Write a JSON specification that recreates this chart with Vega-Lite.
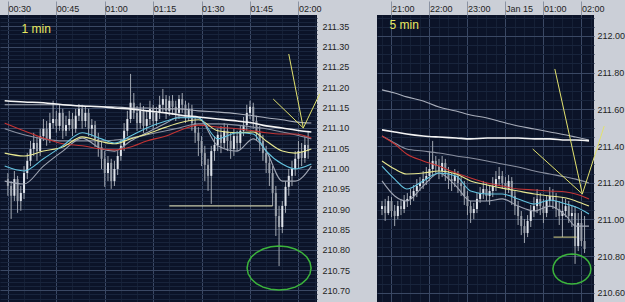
{
  "$schema": "https://vega.github.io/schema/vega-lite/v6.json",
  "background": "#cbcfd7",
  "padding": 0,
  "autosize": {"type": "pad"},
  "spacing": 60,
  "bounds": "flush",
  "config": {
    "view": {"fill": "#0b1328", "stroke": null},
    "axis": {"labelFont": "Liberation Sans", "labelFontSize": 9, "labelColor": "#1e1e1e", "title": null, "domain": false, "gridOpacity": 1, "gridWidth": 1}
  },
  "datasets": {
    "lc": [
      {"t":"2010-01-15T00:30Z","o":210.974,"h":210.989,"l":210.933,"c":210.957},
      {"t":"2010-01-15T00:31Z","o":210.957,"h":210.969,"l":210.876,"c":210.933},
      {"t":"2010-01-15T00:32Z","o":210.933,"h":210.994,"l":210.920,"c":210.974},
      {"t":"2010-01-15T00:33Z","o":210.974,"h":210.982,"l":210.891,"c":210.920},
      {"t":"2010-01-15T00:34Z","o":210.920,"h":210.957,"l":210.896,"c":210.940},
      {"t":"2010-01-15T00:35Z","o":210.940,"h":211.006,"l":210.925,"c":210.989},
      {"t":"2010-01-15T00:36Z","o":210.989,"h":211.038,"l":210.974,"c":211.019},
      {"t":"2010-01-15T00:37Z","o":211.019,"h":211.068,"l":211.006,"c":211.048},
      {"t":"2010-01-15T00:38Z","o":211.048,"h":211.088,"l":211.031,"c":211.063},
      {"t":"2010-01-15T00:39Z","o":211.063,"h":211.078,"l":211.019,"c":211.043},
      {"t":"2010-01-15T00:40Z","o":211.043,"h":211.098,"l":211.031,"c":211.080},
      {"t":"2010-01-15T00:41Z","o":211.080,"h":211.122,"l":211.068,"c":211.098},
      {"t":"2010-01-15T00:42Z","o":211.098,"h":211.117,"l":211.056,"c":211.073},
      {"t":"2010-01-15T00:43Z","o":211.073,"h":211.137,"l":211.063,"c":211.112},
      {"t":"2010-01-15T00:44Z","o":211.112,"h":211.167,"l":211.098,"c":211.122},
      {"t":"2010-01-15T00:45Z","o":211.122,"h":211.142,"l":211.088,"c":211.105},
      {"t":"2010-01-15T00:46Z","o":211.105,"h":211.157,"l":211.093,"c":211.137},
      {"t":"2010-01-15T00:47Z","o":211.137,"h":211.147,"l":211.073,"c":211.093},
      {"t":"2010-01-15T00:48Z","o":211.093,"h":211.130,"l":211.080,"c":211.107},
      {"t":"2010-01-15T00:49Z","o":211.107,"h":211.142,"l":211.093,"c":211.122},
      {"t":"2010-01-15T00:50Z","o":211.122,"h":211.137,"l":211.080,"c":211.098},
      {"t":"2010-01-15T00:51Z","o":211.098,"h":211.147,"l":211.088,"c":211.130},
      {"t":"2010-01-15T00:52Z","o":211.130,"h":211.159,"l":211.117,"c":211.147},
      {"t":"2010-01-15T00:53Z","o":211.147,"h":211.157,"l":211.098,"c":211.117},
      {"t":"2010-01-15T00:54Z","o":211.117,"h":211.152,"l":211.102,"c":211.137},
      {"t":"2010-01-15T00:55Z","o":211.137,"h":211.147,"l":211.080,"c":211.098},
      {"t":"2010-01-15T00:56Z","o":211.098,"h":211.122,"l":211.078,"c":211.107},
      {"t":"2010-01-15T00:57Z","o":211.107,"h":211.117,"l":211.053,"c":211.073},
      {"t":"2010-01-15T00:58Z","o":211.073,"h":211.088,"l":211.029,"c":211.053},
      {"t":"2010-01-15T00:59Z","o":211.053,"h":211.068,"l":210.999,"c":211.024},
      {"t":"2010-01-15T01:00Z","o":211.024,"h":211.043,"l":210.955,"c":210.989},
      {"t":"2010-01-15T01:01Z","o":210.989,"h":211.031,"l":210.969,"c":211.014},
      {"t":"2010-01-15T01:02Z","o":211.014,"h":211.024,"l":210.950,"c":210.969},
      {"t":"2010-01-15T01:03Z","o":210.969,"h":211.019,"l":210.957,"c":210.999},
      {"t":"2010-01-15T01:04Z","o":210.999,"h":211.043,"l":210.984,"c":211.031},
      {"t":"2010-01-15T01:05Z","o":211.031,"h":211.073,"l":211.019,"c":211.056},
      {"t":"2010-01-15T01:06Z","o":211.056,"h":211.112,"l":211.043,"c":211.093},
      {"t":"2010-01-15T01:07Z","o":211.093,"h":211.142,"l":211.080,"c":211.122},
      {"t":"2010-01-15T01:08Z","o":211.122,"h":211.233,"l":211.112,"c":211.162},
      {"t":"2010-01-15T01:09Z","o":211.162,"h":211.186,"l":211.122,"c":211.137},
      {"t":"2010-01-15T01:10Z","o":211.137,"h":211.154,"l":211.093,"c":211.112},
      {"t":"2010-01-15T01:11Z","o":211.112,"h":211.162,"l":211.098,"c":211.142},
      {"t":"2010-01-15T01:12Z","o":211.142,"h":211.154,"l":211.088,"c":211.105},
      {"t":"2010-01-15T01:13Z","o":211.105,"h":211.142,"l":211.093,"c":211.122},
      {"t":"2010-01-15T01:14Z","o":211.122,"h":211.167,"l":211.107,"c":211.147},
      {"t":"2010-01-15T01:15Z","o":211.147,"h":211.157,"l":211.098,"c":211.117},
      {"t":"2010-01-15T01:16Z","o":211.117,"h":211.152,"l":211.105,"c":211.137},
      {"t":"2010-01-15T01:17Z","o":211.137,"h":211.179,"l":211.122,"c":211.157},
      {"t":"2010-01-15T01:18Z","o":211.157,"h":211.196,"l":211.137,"c":211.171},
      {"t":"2010-01-15T01:19Z","o":211.171,"h":211.181,"l":211.122,"c":211.142},
      {"t":"2010-01-15T01:20Z","o":211.142,"h":211.179,"l":211.130,"c":211.167},
      {"t":"2010-01-15T01:21Z","o":211.167,"h":211.181,"l":211.132,"c":211.152},
      {"t":"2010-01-15T01:22Z","o":211.152,"h":211.167,"l":211.117,"c":211.137},
      {"t":"2010-01-15T01:23Z","o":211.137,"h":211.181,"l":211.122,"c":211.171},
      {"t":"2010-01-15T01:24Z","o":211.171,"h":211.186,"l":211.137,"c":211.157},
      {"t":"2010-01-15T01:25Z","o":211.157,"h":211.167,"l":211.112,"c":211.127},
      {"t":"2010-01-15T01:26Z","o":211.127,"h":211.162,"l":211.117,"c":211.147},
      {"t":"2010-01-15T01:27Z","o":211.147,"h":211.157,"l":211.093,"c":211.112},
      {"t":"2010-01-15T01:28Z","o":211.112,"h":211.127,"l":211.063,"c":211.088},
      {"t":"2010-01-15T01:29Z","o":211.088,"h":211.102,"l":211.031,"c":211.068},
      {"t":"2010-01-15T01:30Z","o":211.068,"h":211.080,"l":211.006,"c":211.038},
      {"t":"2010-01-15T01:31Z","o":211.038,"h":211.056,"l":210.969,"c":211.009},
      {"t":"2010-01-15T01:32Z","o":211.009,"h":211.024,"l":210.945,"c":210.982},
      {"t":"2010-01-15T01:33Z","o":210.982,"h":211.056,"l":210.913,"c":211.043},
      {"t":"2010-01-15T01:34Z","o":211.043,"h":211.080,"l":211.019,"c":211.058},
      {"t":"2010-01-15T01:35Z","o":211.058,"h":211.098,"l":211.043,"c":211.083},
      {"t":"2010-01-15T01:36Z","o":211.083,"h":211.105,"l":211.038,"c":211.063},
      {"t":"2010-01-15T01:37Z","o":211.063,"h":211.112,"l":211.048,"c":211.093},
      {"t":"2010-01-15T01:38Z","o":211.093,"h":211.107,"l":211.043,"c":211.068},
      {"t":"2010-01-15T01:39Z","o":211.068,"h":211.088,"l":211.024,"c":211.048},
      {"t":"2010-01-15T01:40Z","o":211.048,"h":211.098,"l":211.031,"c":211.080},
      {"t":"2010-01-15T01:41Z","o":211.080,"h":211.093,"l":211.043,"c":211.063},
      {"t":"2010-01-15T01:42Z","o":211.063,"h":211.107,"l":211.048,"c":211.093},
      {"t":"2010-01-15T01:43Z","o":211.093,"h":211.127,"l":211.080,"c":211.107},
      {"t":"2010-01-15T01:44Z","o":211.107,"h":211.157,"l":211.093,"c":211.137},
      {"t":"2010-01-15T01:45Z","o":211.137,"h":211.167,"l":211.122,"c":211.152},
      {"t":"2010-01-15T01:46Z","o":211.152,"h":211.162,"l":211.098,"c":211.117},
      {"t":"2010-01-15T01:47Z","o":211.117,"h":211.130,"l":211.068,"c":211.088},
      {"t":"2010-01-15T01:48Z","o":211.088,"h":211.105,"l":211.043,"c":211.068},
      {"t":"2010-01-15T01:49Z","o":211.068,"h":211.083,"l":211.019,"c":211.038},
      {"t":"2010-01-15T01:50Z","o":211.038,"h":211.056,"l":210.989,"c":211.014},
      {"t":"2010-01-15T01:51Z","o":211.014,"h":211.031,"l":210.957,"c":210.989},
      {"t":"2010-01-15T01:52Z","o":210.989,"h":211.006,"l":210.908,"c":210.940},
      {"t":"2010-01-15T01:53Z","o":210.940,"h":210.957,"l":210.834,"c":210.883},
      {"t":"2010-01-15T01:54Z","o":210.883,"h":210.908,"l":210.760,"c":210.856},
      {"t":"2010-01-15T01:55Z","o":210.856,"h":210.920,"l":210.841,"c":210.908},
      {"t":"2010-01-15T01:56Z","o":210.908,"h":210.969,"l":210.891,"c":210.955},
      {"t":"2010-01-15T01:57Z","o":210.955,"h":210.999,"l":210.933,"c":210.982},
      {"t":"2010-01-15T01:58Z","o":210.982,"h":211.019,"l":210.957,"c":210.999},
      {"t":"2010-01-15T01:59Z","o":210.999,"h":211.043,"l":210.982,"c":211.024},
      {"t":"2010-01-15T02:00Z","o":211.024,"h":211.068,"l":210.999,"c":211.043},
      {"t":"2010-01-15T02:01Z","o":211.043,"h":211.063,"l":211.006,"c":211.026},
      {"t":"2010-01-15T02:02Z","o":211.026,"h":211.080,"l":211.014,"c":211.058},
      {"t":"2010-01-15T02:03Z","o":211.058,"h":211.093,"l":211.024,"c":211.043}
    ],
    "lma": [
      {"t":"2010-01-15T00:29Z","a":211.167,"b":211.157,"f":211.098,"c":211.112,"d":211.038,"e":211.006,"g":210.969},
      {"t":"2010-01-15T00:35Z","a":211.164,"b":211.157,"f":211.083,"c":211.093,"d":211.031,"e":210.994,"g":210.962},
      {"t":"2010-01-15T00:41Z","a":211.162,"b":211.157,"f":211.073,"c":211.075,"d":211.043,"e":211.024,"g":211.006},
      {"t":"2010-01-15T00:47Z","a":211.157,"b":211.157,"f":211.068,"c":211.061,"d":211.053,"e":211.056,"g":211.043},
      {"t":"2010-01-15T00:53Z","a":211.154,"b":211.154,"f":211.068,"c":211.056,"d":211.078,"e":211.088,"g":211.075},
      {"t":"2010-01-15T00:59Z","a":211.152,"b":211.152,"f":211.068,"c":211.048,"d":211.066,"e":211.073,"g":211.048},
      {"t":"2010-01-15T01:03Z","a":211.149,"b":211.152,"f":211.070,"c":211.046,"d":211.061,"e":211.063,"g":211.043},
      {"t":"2010-01-15T01:08Z","a":211.147,"b":211.149,"f":211.075,"c":211.053,"d":211.073,"e":211.080,"g":211.068},
      {"t":"2010-01-15T01:13Z","a":211.142,"b":211.149,"f":211.083,"c":211.068,"d":211.085,"e":211.100,"g":211.088},
      {"t":"2010-01-15T01:19Z","a":211.137,"b":211.147,"f":211.093,"c":211.080,"d":211.102,"e":211.117,"g":211.112},
      {"t":"2010-01-15T01:23Z","a":211.132,"b":211.147,"f":211.100,"c":211.093,"d":211.112,"e":211.125,"g":211.127},
      {"t":"2010-01-15T01:29Z","a":211.127,"b":211.142,"f":211.110,"c":211.107,"d":211.120,"e":211.125,"g":211.125},
      {"t":"2010-01-15T01:35Z","a":211.122,"b":211.139,"f":211.110,"c":211.102,"d":211.093,"e":211.073,"g":211.056},
      {"t":"2010-01-15T01:41Z","a":211.117,"b":211.135,"f":211.107,"c":211.098,"d":211.088,"e":211.088,"g":211.043},
      {"t":"2010-01-15T01:46Z","a":211.112,"b":211.130,"f":211.102,"c":211.093,"d":211.090,"e":211.085,"g":211.073},
      {"t":"2010-01-15T01:50Z","a":211.105,"b":211.125,"f":211.098,"c":211.088,"d":211.068,"e":211.043,"g":211.043},
      {"t":"2010-01-15T01:55Z","a":211.100,"b":211.120,"f":211.090,"c":211.085,"d":211.043,"e":211.011,"g":210.969},
      {"t":"2010-01-15T01:59Z","a":211.095,"b":211.115,"f":211.083,"c":211.085,"d":211.038,"e":210.999,"g":210.969},
      {"t":"2010-01-15T02:04Z","a":211.090,"b":211.112,"f":211.073,"c":211.075,"d":211.048,"e":211.011,"g":211.006}
    ],
    "lann": [
      {"seg":"h","t":"2010-01-15T01:20Z","p":210.908},
      {"seg":"h","t":"2010-01-15T01:52Z","p":210.908},
      {"seg":"1","t":"2010-01-15T01:57Z","p":211.282},
      {"seg":"1","t":"2010-01-15T02:01:30Z","p":211.100},
      {"seg":"2","t":"2010-01-15T01:52:12Z","p":211.171},
      {"seg":"2","t":"2010-01-15T02:01:30Z","p":211.100},
      {"seg":"3","t":"2010-01-15T02:01:30Z","p":211.100},
      {"seg":"3","t":"2010-01-15T02:06:36Z","p":211.184}
    ],
    "rc": [
      {"t":"2010-01-14T20:45Z","o":211.057,"h":211.101,"l":211.024,"c":211.073},
      {"t":"2010-01-14T20:50Z","o":211.073,"h":211.112,"l":210.992,"c":211.035},
      {"t":"2010-01-14T20:55Z","o":211.035,"h":211.128,"l":211.024,"c":211.101},
      {"t":"2010-01-14T21:00Z","o":211.101,"h":211.122,"l":211.013,"c":211.046},
      {"t":"2010-01-14T21:05Z","o":211.046,"h":211.079,"l":210.964,"c":211.019},
      {"t":"2010-01-14T21:10Z","o":211.019,"h":211.101,"l":211.002,"c":211.073},
      {"t":"2010-01-14T21:15Z","o":211.073,"h":211.112,"l":211.024,"c":211.057},
      {"t":"2010-01-14T21:20Z","o":211.057,"h":211.133,"l":211.035,"c":211.101},
      {"t":"2010-01-14T21:25Z","o":211.101,"h":211.144,"l":211.068,"c":211.112},
      {"t":"2010-01-14T21:30Z","o":211.112,"h":211.166,"l":211.079,"c":211.128},
      {"t":"2010-01-14T21:35Z","o":211.128,"h":211.188,"l":211.101,"c":211.155},
      {"t":"2010-01-14T21:40Z","o":211.155,"h":211.220,"l":211.122,"c":211.182},
      {"t":"2010-01-14T21:45Z","o":211.182,"h":211.231,"l":211.155,"c":211.199},
      {"t":"2010-01-14T21:50Z","o":211.199,"h":211.264,"l":211.166,"c":211.220},
      {"t":"2010-01-14T21:55Z","o":211.220,"h":211.286,"l":211.188,"c":211.237},
      {"t":"2010-01-14T22:00Z","o":211.237,"h":211.373,"l":211.210,"c":211.275},
      {"t":"2010-01-14T22:05Z","o":211.275,"h":211.428,"l":211.237,"c":211.319},
      {"t":"2010-01-14T22:10Z","o":211.319,"h":211.346,"l":211.253,"c":211.291},
      {"t":"2010-01-14T22:15Z","o":211.291,"h":211.330,"l":211.220,"c":211.264},
      {"t":"2010-01-14T22:20Z","o":211.264,"h":211.346,"l":211.231,"c":211.308},
      {"t":"2010-01-14T22:25Z","o":211.308,"h":211.330,"l":211.210,"c":211.253},
      {"t":"2010-01-14T22:30Z","o":211.253,"h":211.286,"l":211.166,"c":211.220},
      {"t":"2010-01-14T22:35Z","o":211.220,"h":211.253,"l":211.155,"c":211.210},
      {"t":"2010-01-14T22:40Z","o":211.210,"h":211.275,"l":211.177,"c":211.237},
      {"t":"2010-01-14T22:45Z","o":211.237,"h":211.264,"l":211.144,"c":211.199},
      {"t":"2010-01-14T22:50Z","o":211.199,"h":211.231,"l":211.128,"c":211.182},
      {"t":"2010-01-14T22:55Z","o":211.182,"h":211.210,"l":211.079,"c":211.128},
      {"t":"2010-01-14T23:00Z","o":211.128,"h":211.155,"l":211.024,"c":211.073},
      {"t":"2010-01-14T23:05Z","o":211.073,"h":211.101,"l":210.981,"c":211.035},
      {"t":"2010-01-14T23:10Z","o":211.035,"h":211.090,"l":211.002,"c":211.057},
      {"t":"2010-01-14T23:15Z","o":211.057,"h":211.144,"l":211.035,"c":211.112},
      {"t":"2010-01-14T23:20Z","o":211.112,"h":211.177,"l":211.090,"c":211.144},
      {"t":"2010-01-14T23:25Z","o":211.144,"h":211.210,"l":211.112,"c":211.166},
      {"t":"2010-01-14T23:30Z","o":211.166,"h":211.199,"l":211.101,"c":211.128},
      {"t":"2010-01-14T23:35Z","o":211.128,"h":211.188,"l":211.079,"c":211.155},
      {"t":"2010-01-14T23:40Z","o":211.155,"h":211.231,"l":211.122,"c":211.182},
      {"t":"2010-01-14T23:45Z","o":211.182,"h":211.264,"l":211.155,"c":211.220},
      {"t":"2010-01-14T23:50Z","o":211.220,"h":211.286,"l":211.188,"c":211.237},
      {"t":"2010-01-14T23:55Z","o":211.237,"h":211.264,"l":211.166,"c":211.199},
      {"t":"2010-01-15T00:00Z","o":211.199,"h":211.231,"l":211.122,"c":211.166},
      {"t":"2010-01-15T00:05Z","o":211.166,"h":211.242,"l":211.144,"c":211.210},
      {"t":"2010-01-15T00:10Z","o":211.210,"h":211.231,"l":211.079,"c":211.128},
      {"t":"2010-01-15T00:15Z","o":211.128,"h":211.155,"l":211.024,"c":211.073},
      {"t":"2010-01-15T00:20Z","o":211.073,"h":211.101,"l":210.970,"c":211.019},
      {"t":"2010-01-15T00:25Z","o":211.019,"h":211.046,"l":210.915,"c":210.964},
      {"t":"2010-01-15T00:30Z","o":210.964,"h":211.002,"l":210.872,"c":210.926},
      {"t":"2010-01-15T00:35Z","o":210.926,"h":211.024,"l":210.904,"c":210.992},
      {"t":"2010-01-15T00:40Z","o":210.992,"h":211.079,"l":210.959,"c":211.046},
      {"t":"2010-01-15T00:45Z","o":211.046,"h":211.122,"l":211.013,"c":211.073},
      {"t":"2010-01-15T00:50Z","o":211.073,"h":211.166,"l":211.035,"c":211.112},
      {"t":"2010-01-15T00:55Z","o":211.112,"h":211.144,"l":211.024,"c":211.073},
      {"t":"2010-01-15T01:00Z","o":211.073,"h":211.112,"l":210.981,"c":211.035},
      {"t":"2010-01-15T01:05Z","o":211.035,"h":211.133,"l":211.013,"c":211.101},
      {"t":"2010-01-15T01:10Z","o":211.101,"h":211.177,"l":211.068,"c":211.128},
      {"t":"2010-01-15T01:15Z","o":211.128,"h":211.166,"l":211.057,"c":211.101},
      {"t":"2010-01-15T01:20Z","o":211.101,"h":211.144,"l":211.013,"c":211.057},
      {"t":"2010-01-15T01:25Z","o":211.057,"h":211.101,"l":210.970,"c":211.019},
      {"t":"2010-01-15T01:30Z","o":211.019,"h":211.122,"l":210.904,"c":211.046},
      {"t":"2010-01-15T01:35Z","o":211.046,"h":211.112,"l":211.013,"c":211.073},
      {"t":"2010-01-15T01:40Z","o":211.073,"h":211.101,"l":210.981,"c":211.019},
      {"t":"2010-01-15T01:45Z","o":211.019,"h":211.073,"l":210.959,"c":211.035},
      {"t":"2010-01-15T01:50Z","o":211.035,"h":211.073,"l":210.758,"c":210.855},
      {"t":"2010-01-15T01:55Z","o":210.855,"h":211.035,"l":210.828,"c":210.981},
      {"t":"2010-01-15T02:00Z","o":210.981,"h":211.046,"l":210.855,"c":210.883},
      {"t":"2010-01-15T02:05Z","o":210.883,"h":211.019,"l":210.817,"c":210.839}
    ],
    "rma": [
      {"t":"2010-01-14T20:45Z","b":211.706,"a":211.488,"f":211.455,"c":211.455,"d":211.319,"e":211.291,"g":211.210},
      {"t":"2010-01-14T21:05Z","b":211.689,"a":211.477,"f":211.417,"c":211.411,"d":211.275,"e":211.220,"g":211.128},
      {"t":"2010-01-14T21:24Z","b":211.668,"a":211.466,"f":211.384,"c":211.357,"d":211.248,"e":211.166,"g":211.101},
      {"t":"2010-01-14T21:50Z","b":211.646,"a":211.455,"f":211.373,"c":211.319,"d":211.253,"e":211.210,"g":211.182},
      {"t":"2010-01-14T22:15Z","b":211.613,"a":211.449,"f":211.362,"c":211.291,"d":211.264,"e":211.253,"g":211.253},
      {"t":"2010-01-14T22:42Z","b":211.591,"a":211.444,"f":211.346,"c":211.253,"d":211.248,"e":211.237,"g":211.182},
      {"t":"2010-01-14T23:05Z","b":211.569,"a":211.439,"f":211.335,"c":211.226,"d":211.210,"e":211.155,"g":211.101},
      {"t":"2010-01-14T23:31Z","b":211.553,"a":211.444,"f":211.319,"c":211.199,"d":211.188,"e":211.139,"g":211.101},
      {"t":"2010-01-14T23:55Z","b":211.531,"a":211.444,"f":211.302,"c":211.182,"d":211.171,"e":211.139,"g":211.112},
      {"t":"2010-01-15T00:20Z","b":211.509,"a":211.444,"f":211.286,"c":211.166,"d":211.155,"e":211.112,"g":211.073},
      {"t":"2010-01-15T00:46Z","b":211.493,"a":211.439,"f":211.264,"c":211.161,"d":211.139,"e":211.084,"g":211.046},
      {"t":"2010-01-15T01:10Z","b":211.477,"a":211.439,"f":211.248,"c":211.155,"d":211.128,"e":211.106,"g":211.073},
      {"t":"2010-01-15T01:36Z","b":211.460,"a":211.433,"f":211.231,"c":211.150,"d":211.117,"e":211.084,"g":211.019},
      {"t":"2010-01-15T01:51Z","b":211.449,"a":211.433,"f":211.220,"c":211.139,"d":211.101,"e":211.068,"g":210.964},
      {"t":"2010-01-15T02:12Z","b":211.433,"a":211.428,"f":211.199,"c":211.112,"d":211.073,"e":211.030,"g":210.964}
    ],
    "rann": [
      {"seg":"h","t":"2010-01-15T01:16Z","p":210.904},
      {"seg":"h","t":"2010-01-15T01:52:30Z","p":210.904},
      {"seg":"1","t":"2010-01-15T01:18Z","p":211.820},
      {"seg":"1","t":"2010-01-15T02:01:30Z","p":211.139},
      {"seg":"2","t":"2010-01-15T00:43Z","p":211.384},
      {"seg":"2","t":"2010-01-15T02:01:30Z","p":211.139},
      {"seg":"3","t":"2010-01-15T02:01:30Z","p":211.139},
      {"seg":"3","t":"2010-01-15T02:36Z","p":211.509}
    ]
  },
  "hconcat": [
    {
      "width": 317,
      "height": 288,
      "encoding": {
        "x": {"field": "t", "type": "temporal",
          "scale": {"type": "utc", "domain": [{"year":2010,"month":1,"date":15,"hours":0,"minutes":29,"seconds":6,"utc":true},{"year":2010,"month":1,"date":15,"hours":2,"minutes":4,"seconds":12,"utc":true}]},
          "axis": {"orient": "top", "tickCount": 20,
            "labelExpr": "utcminutes(datum.value) % 15 === 0 ? utcFormat(datum.value, '%H:%M') : ''",
            "labelAlign": "left", "labelBaseline": "bottom", "labelPadding": -12, "labelDx": 2,
            "labelFlush": false, "labelOverlap": false, "tickSize": 14,
            "tickColor": {"condition": {"test": "utcminutes(datum.value) % 15 === 0", "value": "#8a92a2"}, "value": "transparent"},
            "grid": true,
            "gridColor": {"condition": {"test": "utcminutes(datum.value) % 15 === 0", "value": "#3a4864"}, "value": "#152036"}}}
      },
      "layer": [
        {"data": {"name": "lc"}, "mark": {"type": "rule", "color": "#a2a8b2", "clip": true},
          "encoding": {
            "y": {"field": "l", "type": "quantitative",
              "scale": {"domain": [210.669, 211.378], "zero": false, "nice": false},
              "axis": {"orient": "right", "tickCount": 70, "ticks": false, "labelPadding": 5, "labelAlign": "left", "title": null,
                "labelOverlap": false, "labelFlush": false,
                "labelExpr": "abs(round(datum.value*20) - datum.value*20) < 0.01 ? format(datum.value, '.2f') : ''",
                "grid": true,
                "gridColor": {"condition": {"test": "abs(round(datum.value*20) - datum.value*20) < 0.01", "value": "#3a4864"}, "value": "#18243c"}}},
            "y2": {"field": "h"}}},
        {"data": {"name": "lc"}, "mark": {"type": "bar", "size": 2, "clip": true},
          "encoding": {
            "y": {"field": "o", "type": "quantitative", "scale": {"domain": [210.669, 211.378], "zero": false, "nice": false}, "axis": {"title": null}},
            "y2": {"field": "c"},
            "color": {"condition": {"test": "datum.c >= datum.o", "value": "#dfe3ea"}, "value": "#9aa0aa"}}},
        {"data": {"name": "lma"}, "transform": [{"fold": ["b","f","g","c","d","e"], "as": ["s","v"]}],
          "mark": {"type": "line", "interpolate": "monotone", "clip": true, "strokeWidth": 1.1},
          "encoding": {
            "y": {"field": "v", "type": "quantitative", "scale": {"domain": [210.669, 211.378], "zero": false, "nice": false}, "axis": {"title": null}},
            "color": {"field": "s", "type": "nominal", "legend": null,
              "scale": {"domain": ["a","b","c","d","e","f","g"], "range": ["#f4f4f4","#a9aebb","#c43434","#e8e890","#64c4e0","#8a90a0","#a0a6b4"]}}}},
        {"data": {"name": "lma"},
          "mark": {"type": "line", "interpolate": "monotone", "clip": true, "strokeWidth": 1.6, "color": "#f4f4f4"},
          "encoding": {
            "y": {"field": "a", "type": "quantitative", "scale": {"domain": [210.669, 211.378], "zero": false, "nice": false}, "axis": {"title": null}}}},
        {"data": {"name": "lann"}, "mark": {"type": "line", "strokeWidth": 1},
          "encoding": {
            "y": {"field": "p", "type": "quantitative", "scale": {"domain": [210.669, 211.378], "zero": false, "nice": false}, "axis": {"title": null}},
            "detail": {"field": "seg"},
            "color": {"condition": {"test": "datum.seg === 'h'", "value": "#f2f0c0"}, "value": "#e2e26e"}}},
        {"data": {"values": [{"t": "2010-01-15T01:54Z", "p": 210.755}]},
          "mark": {"type": "point", "shape": "M1,0L0.966,0.178L0.866,0.344L0.707,0.486L0.5,0.595L0.259,0.664L0,0.688L-0.259,0.664L-0.5,0.595L-0.707,0.486L-0.866,0.344L-0.966,0.178L-1,0L-0.966,-0.178L-0.866,-0.344L-0.707,-0.486L-0.5,-0.595L-0.259,-0.664L0,-0.688L0.259,-0.664L0.5,-0.595L0.707,-0.486L0.866,-0.344L0.966,-0.178Z", "size": 4096, "filled": false, "color": "#3cb43c", "strokeWidth": 1.5, "opacity": 1},
          "encoding": {"y": {"field": "p", "type": "quantitative", "scale": {"domain": [210.669, 211.378], "zero": false, "nice": false}, "axis": {"title": null}}}},
        {"data": {"values": [{"t": "2010-01-15T00:34:12Z", "p": 211.334, "label": "1 min"}]},
          "mark": {"type": "text", "align": "left", "baseline": "alphabetic", "fontSize": 12, "font": "Liberation Sans", "color": "#e8e860"},
          "encoding": {"y": {"field": "p", "type": "quantitative", "scale": {"domain": [210.669, 211.378], "zero": false, "nice": false}, "axis": {"title": null}}, "text": {"field": "label"}}}
      ]
    },
    {
      "width": 217,
      "height": 288,
      "encoding": {
        "x": {"field": "t", "type": "temporal",
          "scale": {"type": "utc", "domain": [{"year":2010,"month":1,"date":14,"hours":20,"minutes":45,"utc":true},{"year":2010,"month":1,"date":15,"hours":2,"minutes":12,"utc":true}]},
          "axis": {"orient": "top", "tickCount": 22,
            "labelExpr": "utcminutes(datum.value) === 0 ? (utchours(datum.value) === 0 ? 'Jan 15' : utcFormat(datum.value, '%H:%M')) : ''",
            "labelAlign": "left", "labelBaseline": "bottom", "labelPadding": -12, "labelDx": 2,
            "labelFlush": false, "labelOverlap": false, "tickSize": 14,
            "tickColor": {"condition": {"test": "utcminutes(datum.value) === 0", "value": "#8a92a2"}, "value": "transparent"},
            "grid": true,
            "gridColor": {"condition": {"test": "utcminutes(datum.value) === 0", "value": "#3a4864"}, "value": "#152036"}}}
      },
      "layer": [
        {"data": {"name": "rc"}, "mark": {"type": "rule", "color": "#a2a8b2", "clip": true},
          "encoding": {
            "y": {"field": "l", "type": "quantitative",
              "scale": {"domain": [210.545, 212.114], "zero": false, "nice": false},
              "axis": {"orient": "right", "tickCount": 31, "ticks": false, "labelPadding": 3, "labelAlign": "left", "title": null,
                "labelOverlap": false, "labelFlush": false,
                "labelExpr": "abs(round(datum.value*5) - datum.value*5) < 0.01 ? format(datum.value, '.2f') : ''",
                "grid": true,
                "gridColor": {"condition": {"test": "abs(round(datum.value*5) - datum.value*5) < 0.01", "value": "#3a4864"}, "value": "#18243c"}}},
            "y2": {"field": "h"}}},
        {"data": {"name": "rc"}, "mark": {"type": "bar", "size": 2, "clip": true},
          "encoding": {
            "y": {"field": "o", "type": "quantitative", "scale": {"domain": [210.545, 212.114], "zero": false, "nice": false}, "axis": {"title": null}},
            "y2": {"field": "c"},
            "color": {"condition": {"test": "datum.c >= datum.o", "value": "#dfe3ea"}, "value": "#9aa0aa"}}},
        {"data": {"name": "rma"}, "transform": [{"fold": ["b","f","g","c","d","e"], "as": ["s","v"]}],
          "mark": {"type": "line", "interpolate": "monotone", "clip": true, "strokeWidth": 1.1},
          "encoding": {
            "y": {"field": "v", "type": "quantitative", "scale": {"domain": [210.545, 212.114], "zero": false, "nice": false}, "axis": {"title": null}},
            "color": {"field": "s", "type": "nominal", "legend": null,
              "scale": {"domain": ["a","b","c","d","e","f","g"], "range": ["#f4f4f4","#a9aebb","#c43434","#e8e890","#64c4e0","#8a90a0","#a0a6b4"]}}}},
        {"data": {"name": "rma"},
          "mark": {"type": "line", "interpolate": "monotone", "clip": true, "strokeWidth": 1.6, "color": "#f4f4f4"},
          "encoding": {
            "y": {"field": "a", "type": "quantitative", "scale": {"domain": [210.545, 212.114], "zero": false, "nice": false}, "axis": {"title": null}}}},
        {"data": {"name": "rann"}, "mark": {"type": "line", "strokeWidth": 1},
          "encoding": {
            "y": {"field": "p", "type": "quantitative", "scale": {"domain": [210.545, 212.114], "zero": false, "nice": false}, "axis": {"title": null}},
            "detail": {"field": "seg"},
            "color": {"condition": {"test": "datum.seg === 'h'", "value": "#d8d48a"}, "value": "#e2e26e"}}},
        {"data": {"values": [{"t": "2010-01-15T01:45Z", "p": 210.730}]},
          "mark": {"type": "point", "shape": "M1,0L0.966,0.204L0.866,0.395L0.707,0.559L0.5,0.684L0.259,0.763L0,0.79L-0.259,0.763L-0.5,0.684L-0.707,0.559L-0.866,0.395L-0.966,0.204L-1,0L-0.966,-0.204L-0.866,-0.395L-0.707,-0.559L-0.5,-0.684L-0.259,-0.763L0,-0.79L0.259,-0.763L0.5,-0.684L0.707,-0.559L0.866,-0.395L0.966,-0.204Z", "size": 1444, "filled": false, "color": "#3cb43c", "strokeWidth": 1.5, "opacity": 1},
          "encoding": {"y": {"field": "p", "type": "quantitative", "scale": {"domain": [210.545, 212.114], "zero": false, "nice": false}, "axis": {"title": null}}}},
        {"data": {"values": [{"t": "2010-01-14T20:57Z", "p": 212.038, "label": "5 min"}]},
          "mark": {"type": "text", "align": "left", "baseline": "alphabetic", "fontSize": 12, "font": "Liberation Sans", "color": "#e8e860"},
          "encoding": {"y": {"field": "p", "type": "quantitative", "scale": {"domain": [210.545, 212.114], "zero": false, "nice": false}, "axis": {"title": null}}, "text": {"field": "label"}}}
      ]
    }
  ]
}
